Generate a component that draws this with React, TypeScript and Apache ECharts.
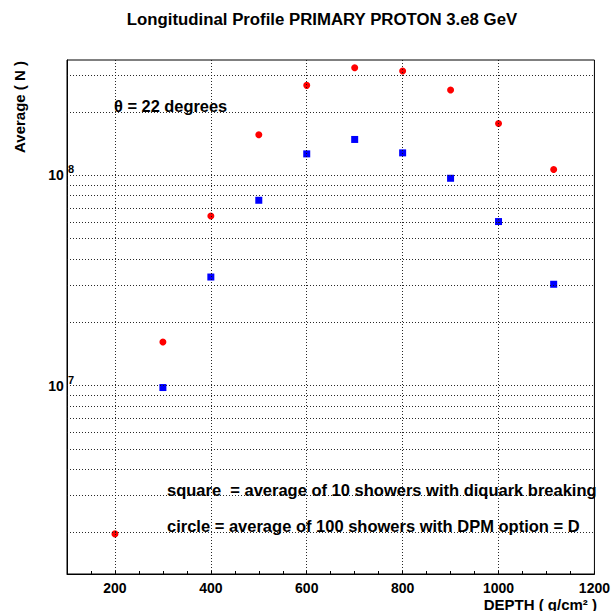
import React, { useEffect, useRef } from 'react';
import * as echarts from 'echarts';

// Depth (g/cm^2) and average particle number N
const circleDepths = [200, 300, 400, 500, 600, 700, 800, 900, 1000, 1115];
const circleValues = [1.97e6, 1.61e7, 6.4e7, 1.556e8, 2.674e8, 3.24e8, 3.127e8, 2.54e8, 1.763e8, 1.064e8];
const squareDepths = [300, 400, 500, 600, 700, 800, 900, 1000, 1115];
const squareValues = [9.78e6, 3.28e7, 7.6e7, 1.263e8, 1.479e8, 1.277e8, 9.67e7, 6.02e7, 3.03e7];

// grid lines (tick positions)
const xGridLines = [200, 400, 600, 800, 1000];
const yGridLines = [
  2e6, 3e6, 4e6, 5e6, 6e6, 7e6, 8e6, 9e6,
  1e7, 2e7, 3e7, 4e7, 5e7, 6e7, 7e7, 8e7, 9e7,
  1e8, 2e8, 3e8,
];
const xMin = 100;
const xMax = 1200;
const xTickStep = 100;
const xLabelStep = 200;
const yMin = 1.27e6;
const yMax = 3.53e8;

const titleText = 'Longitudinal Profile PRIMARY PROTON 3.e8 GeV';
const xName = 'DEPTH ( g/cm² )';
const yName = 'Average ( N )';
const thetaText = 'θ = 22 degrees';
const squareText = 'square  = average of 10 showers with diquark breaking';
const circleText = 'circle = average of 100 showers with DPM option = D';

export default function App() {
  const ref = useRef<HTMLDivElement>(null);
  useEffect(() => {
    const chart = echarts.init(ref.current!, null, { renderer: 'svg' });
    const ff = '"Liberation Sans", Arial, Helvetica, sans-serif';
    const dotted = { color: '#111', width: 1, type: [1, 2] as any, opacity: 0.9 };
    const txt = (text: string, x: number, y: number, size: number, align = 'left', rotation = 0) => ({
      type: 'text',
      x,
      y,
      rotation,
      z: 10,
      style: {
        text,
        font: `bold ${size}px ${ff}`,
        fill: '#000',
        align,
        textAlign: align,
        verticalAlign: 'middle',
        textVerticalAlign: 'middle',
      },
    });
    chart.setOption({
      animation: false,
      backgroundColor: '#fff',
      grid: {
        left: 67,
        top: 60,
        right: 17,
        bottom: 37,
        show: true,
        borderColor: '#000',
        borderWidth: 1,
        backgroundColor: 'transparent',
      },
      xAxis: {
        type: 'value',
        min: xMin,
        max: xMax,
        interval: xTickStep,
        axisLine: { show: true, onZero: false, lineStyle: { color: '#000', width: 1 } },
        axisTick: { show: true, inside: true, length: 3, lineStyle: { color: '#000' } },
        minorTick: { show: true, splitNumber: 2, length: 3, lineStyle: { color: '#000' } },
        splitLine: { show: false },
        axisLabel: {
          formatter: (v: number) => (v % xLabelStep === 0 ? String(v) : ''),
          color: '#000',
          fontWeight: 'bold',
          fontSize: 14,
          fontFamily: ff,
          margin: 7,
        },
      },
      yAxis: {
        type: 'log',
        logBase: 10,
        min: yMin,
        max: yMax,
        axisLine: { show: true, lineStyle: { color: '#000', width: 1 } },
        axisTick: { show: false },
        splitLine: { show: false },
        axisLabel: {
          showMinLabel: false,
          showMaxLabel: false,
          margin: -7,
          formatter: (v: number) => {
            const e = Math.log10(v);
            const r = Math.round(e);
            if (Math.abs(e - r) > 1e-6) return '';
            return `{b|10}{s|${r}}`;
          },
          rich: {
            b: { fontSize: 14, fontWeight: 'bold', lineHeight: 23, color: '#000', fontFamily: ff },
            s: {
              fontSize: 11,
              fontWeight: 'bold',
              lineHeight: 11,
              verticalAlign: 'top',
              padding: [0, 0, 0, 4],
              color: '#000',
              fontFamily: ff,
            },
          },
        },
      },
      series: [
        {
          type: 'scatter',
          data: [],
          z: 1,
          silent: true,
          markLine: {
            silent: true,
            symbol: ['none', 'none'],
            label: { show: false },
            lineStyle: dotted,
            emphasis: { disabled: true },
            data: [
              ...xGridLines.map((v) => ({ xAxis: v })),
              ...yGridLines.map((v) => ({ yAxis: v })),
            ],
          },
        },
        {
          type: 'scatter',
          name: 'circle',
          z: 3,
          symbol: 'circle',
          symbolSize: 7,
          itemStyle: { color: '#ff0000', opacity: 1 },
          data: circleDepths.map((d, i) => [d, circleValues[i]]),
        },
        {
          type: 'scatter',
          name: 'square',
          z: 3,
          symbol: 'rect',
          symbolSize: 7,
          itemStyle: { color: '#0000ff', opacity: 1 },
          data: squareDepths.map((d, i) => [d, squareValues[i]]),
        },
      ],
      graphic: [
        txt(titleText, 322, 19, 16.8, 'center'),
        txt(xName, 597, 604, 15, 'right'),
        txt(yName, 19, 107, 15, 'center', Math.PI / 2),
        txt(thetaText, 114, 106, 16.4, 'left'),
        txt(squareText, 167, 490, 16.5, 'left'),
        txt(circleText, 167, 526, 16.5, 'left'),
      ],
    });
    return () => chart.dispose();
  }, []);
  return <div ref={ref} style={{ position: 'absolute', left: 0, top: 0, width: 613, height: 611 }} />;
}
